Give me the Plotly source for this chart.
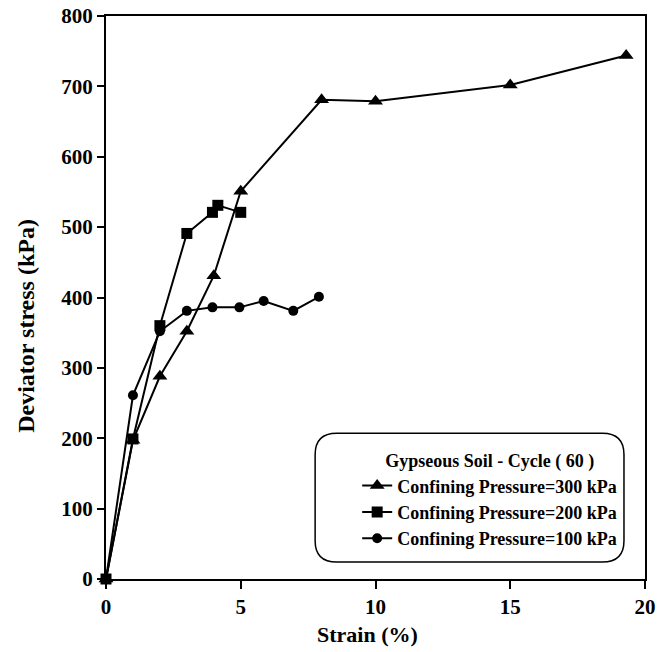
import plotly.graph_objects as go

# Data
strain_300 = [0, 1, 2, 3, 4, 5, 8, 10, 15, 19.3]
stress_300 = [0, 197, 288, 352, 431, 551, 681, 679, 702, 744]

strain_200 = [0, 1, 2, 3, 3.95, 4.15, 5]
stress_200 = [0, 199, 360, 491, 521, 531, 521]

strain_100 = [0, 1, 2, 3, 3.95, 4.95, 5.85, 6.95, 7.9]
stress_100 = [0, 261, 352, 381, 386, 386, 395, 381, 401]

series_names = ["Confining Pressure=300 kPa",
                "Confining Pressure=200 kPa",
                "Confining Pressure=100 kPa"]
x_ticks = [0, 5, 10, 15, 20]
y_ticks = [0, 100, 200, 300, 400, 500, 600, 700, 800]

FONT = "Liberation Serif"

fig = go.Figure()
fig.add_trace(go.Scatter(x=strain_300, y=stress_300, mode="lines+markers",
                         name=f"<b>{series_names[0]}</b>",
                         line=dict(color="black", width=2),
                         marker=dict(symbol="triangle-up", size=13, color="black"),
                         cliponaxis=False))
fig.add_trace(go.Scatter(x=strain_200, y=stress_200, mode="lines+markers",
                         name=f"<b>{series_names[1]}</b>",
                         line=dict(color="black", width=2),
                         marker=dict(symbol="square", size=11, color="black"),
                         cliponaxis=False))
fig.add_trace(go.Scatter(x=strain_100, y=stress_100, mode="lines+markers",
                         name=f"<b>{series_names[2]}</b>",
                         line=dict(color="black", width=2),
                         marker=dict(symbol="circle", size=10, color="black"),
                         cliponaxis=False))

# rounded legend frame (paper coordinates)
x0, x1, y0, y1 = 0.388, 0.961, 0.030, 0.259
rx, ry = 0.04, 0.038
path = (f"M{x0+rx},{y1} L{x1-rx},{y1} Q{x1},{y1} {x1},{y1-ry} "
        f"L{x1},{y0+ry} Q{x1},{y0} {x1-rx},{y0} L{x0+rx},{y0} "
        f"Q{x0},{y0} {x0},{y0+ry} L{x0},{y1-ry} Q{x0},{y1} {x0+rx},{y1} Z")
fig.add_shape(type="path", path=path, xref="paper", yref="paper",
              line=dict(color="black", width=1.5), fillcolor="white", layer="below")

# axis titles as annotations for exact placement
fig.add_annotation(text="<b>Strain (%)</b>", xref="paper", yref="paper",
                   x=0.486, y=-0.098, xanchor="center", yanchor="middle",
                   showarrow=False, font=dict(family=FONT, size=22, color="black"))
fig.add_annotation(text="<b>Deviator stress (kPa)</b>", xref="paper", yref="paper",
                   x=-0.150, y=0.45, xanchor="center", yanchor="middle", textangle=-90,
                   showarrow=False, font=dict(family=FONT, size=24, color="black"))

fig.update_layout(
    width=669, height=652,
    margin=dict(l=106, r=24, t=16, b=73),
    paper_bgcolor="white", plot_bgcolor="white",
    font=dict(family=FONT, color="black"),
    showlegend=True,
    legend=dict(
        x=0.466, y=0.240, xanchor="left", yanchor="top",
        bgcolor="rgba(0,0,0,0)", borderwidth=0,
        font=dict(family=FONT, size=18, color="black"),
        title=dict(text="<b>Gypseous Soil - Cycle ( 60 )</b>", side="top center",
                   font=dict(family=FONT, size=18, color="black")),
        itemsizing="trace",
        tracegroupgap=0,
    ),
    xaxis=dict(
        range=[0, 20], tickvals=x_ticks, ticktext=[f"<b>{v}</b>" for v in x_ticks],
        showgrid=False, zeroline=False, automargin=False,
        showline=True, linecolor="black", linewidth=2, mirror=True,
        ticks="outside", ticklen=8, tickwidth=1.5, tickcolor="black",
        tickfont=dict(family=FONT, size=21, color="black"),
    ),
    yaxis=dict(
        range=[0, 800], tickvals=y_ticks, ticktext=[f"<b>{v}</b>" for v in y_ticks],
        showgrid=False, zeroline=False, automargin=False,
        showline=True, linecolor="black", linewidth=2, mirror=True,
        ticks="outside", ticklen=7, tickwidth=1.5, tickcolor="black",
        tickfont=dict(family=FONT, size=21, color="black"),
    ),
)

fig.write_html("out.html",
               config={"displayModeBar": False},
               post_script="document.body.style.margin='0';document.body.style.overflow='hidden';")
